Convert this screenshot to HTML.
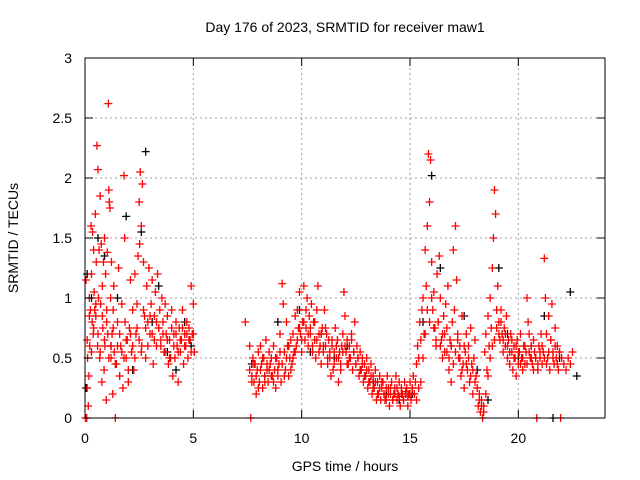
<!DOCTYPE html>
<html><head><meta charset="utf-8"><style>
body{margin:0;background:#fff}
svg{display:block;font-family:"Liberation Sans",sans-serif}
</style></head><body>
<svg id="chart" width="640" height="480" viewBox="0 0 640 480">
<rect width="640" height="480" fill="#fff"/>
<g id="grid"></g>
<g id="black-pts"></g>
<g id="red-pts"></g>
<rect x="85" y="58" width="520" height="360" fill="none" stroke="#000" stroke-width="1"/>
<g id="ticks"></g>
<text x="345" y="32" font-size="14" text-anchor="middle">Day 176 of 2023, SRMTID for receiver maw1</text>
<text x="345" y="471" font-size="14" text-anchor="middle">GPS time / hours</text>
<text transform="translate(18,238) rotate(-90)" font-size="14" text-anchor="middle">SRMTID / TECUs</text>
</svg>
<script>
const xTicks=[0,5,10,15,20];
const yTicks=[0,0.5,1,1.5,2,2.5,3];
const yTickLabels=["0","0.5","1","1.5","2","2.5","3"];
const redT=[0.02,0.05,0.08,0.1,0.12,0.15,0.18,0.2,0.22,0.25,0.28,0.3,0.33,0.35,0.38,0.4,0.42,0.45,0.48,0.5,0.52,0.55,0.58,0.6,0.62,0.65,0.68,0.7,0.72,0.75,0.78,0.8,0.82,0.85,0.88,0.9,0.92,0.95,0.98,1.0,1.03,1.05,1.08,1.1,1.12,1.15,1.18,1.2,1.22,1.25,1.28,1.3,1.33,1.35,1.4,1.45,1.5,1.55,1.6,1.65,1.7,1.75,1.8,1.83,1.85,1.9,1.95,2.0,2.05,2.1,2.15,2.2,2.25,2.3,2.35,2.4,2.45,2.5,2.52,2.55,2.6,2.62,2.65,2.7,2.75,2.8,2.85,2.9,2.95,3.0,3.05,3.1,3.15,3.2,3.25,3.3,3.35,3.4,3.45,3.5,3.55,3.6,3.65,3.7,3.75,3.8,3.85,3.9,3.95,4.0,4.05,4.1,4.15,4.2,4.25,4.3,4.35,4.4,4.45,4.5,4.55,4.6,4.65,4.7,4.75,4.8,4.85,4.9,4.95,5.0,5.05,
7.4,7.6,7.65,7.7,7.75,7.8,7.85,7.9,7.95,8.0,8.05,8.1,8.15,8.2,8.25,8.3,8.35,8.4,8.45,8.5,8.55,8.6,8.65,8.7,8.75,8.8,8.85,8.9,8.95,9.0,9.05,9.1,9.15,9.2,9.25,9.3,9.35,9.4,9.45,9.5,9.55,9.6,9.65,9.7,9.75,9.8,9.85,9.9,9.95,10.0,10.05,10.1,10.15,10.2,10.25,10.3,10.35,10.4,10.45,10.5,10.55,10.6,10.65,10.7,10.75,10.8,10.85,10.9,10.95,11.0,11.05,11.1,11.15,11.2,11.25,11.3,11.35,11.4,11.45,11.5,11.55,11.6,11.65,11.7,11.75,11.8,11.85,11.9,11.95,12.0,12.05,12.1,12.15,12.2,12.25,12.3,12.35,12.4,12.45,12.5,12.55,12.6,12.65,12.7,12.75,12.8,12.85,12.9,12.95,13.0,13.05,13.1,13.15,13.2,13.25,13.3,13.35,13.4,13.45,13.5,13.55,13.6,13.65,13.7,13.75,13.8,13.85,13.9,13.95,14.0,14.05,14.1,14.15,14.2,14.25,14.3,14.35,14.4,14.45,14.5,14.55,14.6,14.65,14.7,14.75,14.8,14.85,14.9,14.95,15.0,15.05,15.1,15.15,15.2,15.25,15.3,15.35,15.4,15.45,15.5,15.55,15.6,15.65,15.7,15.75,15.8,15.85,15.9,15.95,16.0,16.05,16.1,16.15,16.2,16.25,16.3,16.35,16.4,16.45,16.5,16.55,16.6,16.65,16.7,16.75,16.8,16.85,16.9,16.95,17.0,17.05,17.1,17.15,17.2,17.25,17.3,17.35,17.4,17.45,17.5,17.55,17.6,17.65,17.7,17.75,17.8,17.85,17.9,17.95,18.0,18.05,18.1,18.15,18.2,18.25,18.3,18.35,18.4,18.45,18.5,18.55,18.6,18.65,18.7,18.75,18.8,18.85,18.9,18.95,19.0,19.05,19.1,19.15,19.2,19.25,19.3,19.35,19.4,19.45,19.5,19.55,19.6,19.65,19.7,19.75,19.8,19.85,19.9,19.95,20.0,20.05,20.1,20.15,20.2,20.25,20.3,20.35,20.4,20.45,20.5,20.55,20.6,20.65,20.7,20.75,20.8,20.85,20.9,20.95,21.0,21.05,21.1,21.15,21.2,21.25,21.3,21.35,21.4,21.45,21.5,21.55,21.6,21.65,21.7,21.75,21.8,21.85,21.9,21.95,22.0,22.05,22.1,22.15,22.2,22.25,22.3,22.35,22.4,22.45,22.5,22.55,22.6,22.65,22.7,22.9];
const redV=[0.0,1.15,0.0,0.25,0.5,0.1,0.35,1.0,0.6,0.9,1.6,1.2,0.8,1.55,0.7,1.4,1.05,0.9,1.7,0.85,1.3,2.27,0.6,2.07,1.0,1.4,0.5,1.85,0.95,1.45,0.3,1.1,0.75,1.3,0.4,1.5,0.6,1.2,0.15,0.9,1.38,0.7,2.62,1.9,1.8,1.75,1.0,0.5,1.3,0.7,0.2,0.9,1.1,0.55,0.0,0.45,0.8,1.25,0.35,0.6,0.95,0.25,2.02,1.5,0.8,0.5,0.65,0.3,0.75,1.15,0.55,0.9,0.4,1.2,0.7,0.95,1.35,1.8,1.45,2.05,1.6,0.6,1.95,1.3,0.85,0.5,1.1,0.8,1.25,0.7,0.95,1.15,0.45,0.85,1.05,0.6,1.2,0.75,0.9,0.65,1.0,0.8,0.55,0.95,0.7,0.85,0.45,0.65,0.5,0.9,0.35,0.7,0.5,0.8,0.6,0.3,0.75,0.55,0.65,0.9,0.45,0.7,0.6,0.8,0.5,0.75,0.65,1.1,0.7,0.95,0.55,0.8,0.6,
0.0,0.35,0.5,0.3,0.45,0.2,0.4,0.55,0.3,0.6,0.45,0.25,0.5,0.35,0.65,0.4,0.3,0.55,0.45,0.5,0.35,0.6,0.4,0.25,0.5,0.35,0.45,0.7,0.3,1.12,0.95,0.55,0.4,0.8,0.6,0.35,0.5,0.65,0.45,0.7,0.55,0.85,0.6,0.9,0.75,1.05,0.7,0.55,0.8,1.1,0.65,0.75,1.0,0.6,0.85,0.7,0.95,0.55,0.8,0.65,0.5,0.9,1.1,0.7,0.6,0.45,0.75,0.55,0.9,0.6,0.7,0.45,0.65,0.5,0.35,0.6,0.4,0.55,0.75,0.5,0.65,0.3,0.55,0.45,0.6,0.7,1.05,0.85,0.55,0.65,0.45,0.6,0.5,0.7,0.4,0.55,0.8,0.45,0.6,0.5,0.35,0.55,0.4,0.5,0.3,0.45,0.35,0.5,0.25,0.4,0.3,0.45,0.2,0.35,0.25,0.4,0.15,0.3,0.2,0.35,0.15,0.25,0.3,0.2,0.15,0.25,0.35,0.2,0.1,0.25,0.3,0.15,0.2,0.25,0.35,0.15,0.2,0.3,0.1,0.25,0.2,0.15,0.3,0.2,0.25,0.1,0.2,0.3,0.15,0.25,0.35,0.2,0.3,0.45,0.6,0.5,0.8,0.65,0.9,1.0,0.7,1.4,1.1,1.6,2.2,1.8,2.15,1.3,0.9,1.05,0.75,0.6,1.2,0.8,1.35,1.0,0.65,0.5,0.85,0.7,0.95,0.55,1.1,0.4,0.65,0.3,0.8,1.4,0.9,1.6,1.15,0.7,0.5,0.6,0.35,0.85,0.45,0.25,0.55,0.7,0.4,0.6,0.3,0.75,0.45,0.2,0.5,0.65,0.35,0.25,0.1,0.2,0.05,0.15,0.0,0.1,0.55,0.7,0.4,0.85,0.6,1.0,0.75,1.25,1.5,1.9,1.7,0.9,1.1,0.8,0.65,0.9,0.7,0.55,0.75,0.6,0.85,0.5,0.65,0.45,0.7,0.55,0.4,0.6,0.5,0.35,0.65,0.45,0.55,0.7,0.5,0.4,0.6,0.45,0.55,1.0,0.8,0.7,0.5,0.6,0.45,0.65,0.55,0.5,0.0,0.4,0.6,0.5,0.7,0.45,0.55,1.33,1.0,0.7,0.5,0.85,0.4,0.65,0.95,0.55,0.45,0.75,0.5,0.6,0.4,0.55,0.0];
const redT2=[0.1,0.2,0.3,0.4,0.5,0.6,0.7,0.8,0.9,1.0,1.1,1.2,1.3,1.4,1.5,1.6,1.7,1.8,1.9,2.0,2.1,2.2,2.3,2.4,2.5,2.6,2.7,2.8,2.9,3.0,3.1,3.2,3.3,3.4,3.5,3.6,3.7,3.8,3.9,4.0,4.1,4.2,4.3,4.4,4.5,4.6,4.7,4.8,4.9,5.0,
7.6,7.7,7.8,7.9,8.0,8.1,8.2,8.3,8.4,8.5,8.6,8.7,8.8,8.9,9.0,9.1,9.2,9.3,9.4,9.5,9.6,9.7,9.8,9.9,10.0,10.1,10.2,10.3,10.4,10.5,10.6,10.7,10.8,10.9,11.0,11.1,11.2,11.3,11.4,11.5,11.6,11.7,11.8,11.9,12.0,12.1,12.2,12.3,12.4,12.5,12.6,12.7,12.8,12.9,13.0,13.1,13.2,13.3,13.4,13.5,13.6,13.7,13.8,13.9,14.0,14.1,14.2,14.3,14.4,14.5,14.6,14.7,14.8,14.9,15.0,15.1,15.2,15.3,15.4,15.5,15.6,15.7,15.8,15.9,16.0,16.1,16.2,16.3,16.4,16.5,16.6,16.7,16.8,16.9,17.0,17.1,17.2,17.3,17.4,17.5,17.6,17.7,17.8,17.9,18.0,18.1,18.2,18.3,18.4,18.5,18.6,18.7,18.8,18.9,19.0,19.1,19.2,19.3,19.4,19.5,19.6,19.7,19.8,19.9,20.0,20.1,20.2,20.3,20.4,20.5,20.6,20.7,20.8,20.9,21.0,21.1,21.2,21.3,21.4,21.5,21.6,21.7,21.8,21.9,22.0,22.1,22.2,22.3,22.4,22.5,22.6,22.7];
const redV2=[0.65,0.85,0.55,0.75,0.95,0.7,0.55,0.85,0.65,0.8,0.5,0.6,0.75,0.45,0.6,0.7,0.55,0.5,0.65,0.4,0.7,0.6,0.5,0.75,0.65,0.55,0.9,0.75,0.6,0.85,0.7,0.65,0.8,0.75,0.6,0.7,0.55,0.65,0.5,0.75,0.6,0.7,0.55,0.65,0.75,0.6,0.7,0.65,0.55,0.7,
0.4,0.3,0.45,0.35,0.25,0.4,0.5,0.3,0.45,0.4,0.35,0.3,0.5,0.4,0.55,0.45,0.35,0.5,0.6,0.4,0.5,0.55,0.65,0.75,0.65,0.8,0.9,0.7,0.75,0.6,0.8,0.65,0.55,0.7,0.6,0.75,0.5,0.55,0.65,0.45,0.6,0.5,0.4,0.55,0.6,0.45,0.5,0.65,0.55,0.45,0.5,0.4,0.45,0.35,0.4,0.3,0.35,0.25,0.3,0.2,0.25,0.3,0.2,0.15,0.25,0.2,0.15,0.2,0.25,0.18,0.2,0.15,0.22,0.18,0.2,0.25,0.2,0.15,0.25,0.3,0.5,0.7,0.9,0.8,1.0,0.75,0.65,0.8,0.6,0.7,0.55,0.75,0.5,0.6,0.45,0.55,0.65,0.5,0.4,0.6,0.45,0.5,0.35,0.4,0.3,0.25,0.15,0.1,0.05,0.2,0.35,0.5,0.6,0.65,0.75,0.7,0.8,0.65,0.7,0.6,0.55,0.65,0.5,0.6,0.55,0.45,0.5,0.6,0.45,0.55,0.5,0.4,0.5,0.45,0.55,0.6,0.5,0.45,0.55,0.65,0.5,0.6,0.45,0.55,0.5,0.45,0.4,0.5,0.45,0.55];
const blackT=[0.05,0.1,0.3,0.6,0.9,1.2,1.5,1.9,2.2,2.6,2.8,3.1,3.4,3.8,4.2,4.6,4.9,7.7,8.3,8.9,9.4,9.9,10.4,10.9,11.5,12.1,12.7,13.3,13.9,14.5,15.1,15.6,16.0,16.4,16.9,17.5,18.1,18.6,19.1,19.5,20.0,20.6,21.2,21.6,21.9,22.4,22.7];
const blackV=[0.25,1.2,1.0,1.5,1.35,0.6,1.0,1.68,0.4,1.55,2.22,0.8,1.1,0.55,0.4,0.8,0.6,0.45,0.35,0.8,0.6,0.9,0.55,0.7,0.5,0.6,0.4,0.3,0.2,0.15,0.2,0.8,2.02,1.25,0.6,0.85,0.4,0.15,1.25,0.7,0.5,0.6,0.85,0.0,0.5,1.05,0.35];
const X=t=>85+t*520/24, Y=v=>418-v*120;
const NS="http://www.w3.org/2000/svg";
const grid=document.getElementById('grid'), ticks=document.getElementById('ticks');
function mk(tag,at,parent){const e=document.createElementNS(NS,tag);for(const k in at)e.setAttribute(k,at[k]);parent.appendChild(e);return e;}
xTicks.forEach(t=>{const x=X(t);
 if(t>0){const g=mk('line',{x1:x,x2:x,y1:58,y2:418,stroke:'#a0a0a0','stroke-dasharray':'2,3'},grid);
 
 }
 const a=mk('line',{x1:x,x2:x,y1:418,y2:410,stroke:'#000'},ticks);
 
 
 const b=mk('line',{x1:x,x2:x,y1:58,y2:66,stroke:'#000'},ticks);
 
 
 const l=mk('text',{x:x,y:443,'font-size':14,'text-anchor':'middle'},ticks);l.textContent=t;
 
 
});
yTicks.forEach((v,i)=>{const y=Y(v);
 if(v>0&&v<3){const g=mk('line',{x1:85,x2:605,y1:y,y2:y,stroke:'#a0a0a0','stroke-dasharray':'2,3'},grid);
 
 }
 const a=mk('line',{x1:85,x2:93,y1:y,y2:y,stroke:'#000'},ticks);
 
 
 const b=mk('line',{x1:597,x2:605,y1:y,y2:y,stroke:'#000'},ticks);
 
 
 const l=mk('text',{x:72,y:y+5,'font-size':14,'text-anchor':'end'},ticks);l.textContent=yTickLabels[i];
 
 
});
function plus(parent,t,v,col,name){const x=X(t),y=Y(v);
 const p=mk('path',{d:`M${x-4} ${y}H${x+4}M${x} ${y-4}V${y+4}`,stroke:col,'stroke-width':1.3,fill:'none'},parent);
 
 }
const bg=document.getElementById('black-pts');
blackT.forEach((t,i)=>plus(bg,t,blackV[i],'#000','black-point'));
const rg=document.getElementById('red-pts');
redT.forEach((t,i)=>plus(rg,t,redV[i],'#f00','red-point'));
redT2.forEach((t,i)=>plus(rg,t,redV2[i],'#f00','red-point'));
</script>
</body></html>
